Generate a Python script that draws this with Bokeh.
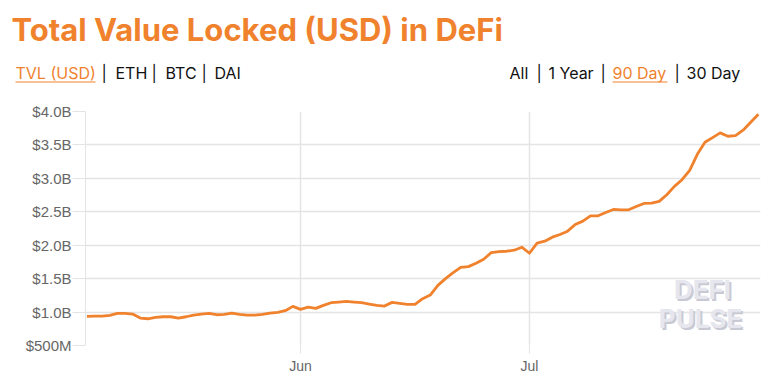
import pandas as pd
from bokeh.plotting import figure
from bokeh.models import FixedTicker, Label, Range1d, BoxAnnotation
from bokeh.embed import file_html
from bokeh.resources import INLINE

# ---- data ----
start_date = "2020-05-04"
tvl_billions = [
    0.936, 0.94, 0.94, 0.95, 0.98, 0.98, 0.97, 0.91, 0.90, 0.92,
    0.93, 0.93, 0.91, 0.93, 0.955, 0.97, 0.98, 0.96, 0.965, 0.985,
    0.965, 0.955, 0.955, 0.965, 0.985, 0.995, 1.02, 1.085, 1.04, 1.075,
    1.055, 1.10, 1.14, 1.15, 1.16, 1.15, 1.14, 1.12, 1.10, 1.09,
    1.145, 1.13, 1.115, 1.115, 1.20, 1.255, 1.40, 1.50, 1.59, 1.67,
    1.68, 1.73, 1.79, 1.89, 1.905, 1.91, 1.925, 1.97, 1.88, 2.03,
    2.06, 2.12, 2.16, 2.21, 2.31, 2.36, 2.44, 2.44, 2.49, 2.535,
    2.53, 2.53, 2.58, 2.625, 2.63, 2.655, 2.755, 2.88, 2.98, 3.12,
    3.36, 3.54, 3.61, 3.68, 3.63, 3.64, 3.72, 3.84, 3.96,
]
y_tick_values = [0.5e9, 1.0e9, 1.5e9, 2.0e9, 2.5e9, 3.0e9, 3.5e9, 4.0e9]
y_tick_labels = ["$500M", "$1.0B", "$1.5B", "$2.0B", "$2.5B", "$3.0B", "$3.5B", "$4.0B"]
x_tick_dates = ["2020-06-01", "2020-07-01"]
x_tick_labels = ["Jun", "Jul"]

title_text = "Total Value Locked (USD) in DeFi"
left_menu = ["TVL (USD)", "ETH", "BTC", "DAI"]
right_menu = ["All", "1 Year", "90 Day", "30 Day"]
left_active = "TVL (USD)"
right_active = "90 Day"

ORANGE = "#f0822d"
GRID = "#e4e4e4"

dates = pd.date_range(start_date, periods=len(tvl_billions), freq="D")
values = [v * 1e9 for v in tvl_billions]

jun1 = pd.Timestamp(x_tick_dates[0])
jul1 = pd.Timestamp(x_tick_dates[1])
x_start = jun1 - pd.Timedelta(hours=28.18 * 24)
x_end = jul1 + pd.Timedelta(hours=30.28 * 24)

W, H = 770, 382
HH = 98                                # header height
FL, FT, FR, FB = 85, 111, 760, 345     # frame edges in page pixels

# ---------------- header figure ----------------
hdr = figure(width=W, height=HH, output_backend="svg", toolbar_location=None,
             x_range=Range1d(0, W), y_range=Range1d(HH, 0),
             x_axis_location=None, y_axis_location=None,
             min_border=0, min_border_left=0, min_border_right=0,
             min_border_top=0, min_border_bottom=0)
hdr.grid.visible = False
hdr.outline_line_color = None
hdr.background_fill_color = "white"
hdr.border_fill_color = "white"


def add_label(X, Y, text, size, color, bold=False, font="Inter", align="left"):
    hdr.add_layout(Label(x=X, y=Y, text=text,
                         text_font=font, text_font_size=size, text_color=color,
                         text_font_style="bold" if bold else "normal",
                         text_align=align, text_baseline="middle"))


def underline(X0, X1, Y):
    hdr.add_layout(BoxAnnotation(left=X0, right=X1, top=Y, bottom=Y + 1,
                                 fill_color=ORANGE, fill_alpha=1, line_color=None))


add_label(11, 29, title_text, "31px", ORANGE, bold=True)

left_x = [15, 115, 165, 214]
left_sep_x = [101, 151, 201]
for x, t in zip(left_x, left_menu):
    add_label(x, 72, t, "16px", ORANGE if t == left_active else "#111111")
for x in left_sep_x:
    add_label(x, 72, "|", "16px", "#111111")

right_x = [509, 548, 612, 686]
right_sep_x = [536, 600, 674]
for x, t in zip(right_x, right_menu):
    add_label(x, 72, t, "16px", ORANGE if t == right_active else "#111111")
for x in right_sep_x:
    add_label(x, 72, "|", "16px", "#111111")

underline(15, 95, 81)
underline(612, 667, 81)

# ---------------- main chart ----------------
PH = H - HH
p = figure(width=W, height=PH, x_axis_type="datetime",
           output_backend="svg", toolbar_location=None,
           x_range=Range1d(x_start, x_end), y_range=Range1d(0.5e9, 4.0e9),
           min_border_left=FL, min_border_right=W - FR,
           min_border_top=FT - HH, min_border_bottom=H - FB)
p.outline_line_color = None
p.background_fill_color = "white"
p.border_fill_color = "white"

p.line(dates, values, line_color=ORANGE, line_width=2.8, line_join="round")

# y axis
yt = FixedTicker(ticks=y_tick_values)
p.yaxis.ticker = yt
p.yaxis.major_label_overrides = {v: s for v, s in zip(y_tick_values, y_tick_labels)}
p.yaxis.minor_tick_line_color = None
p.yaxis.major_tick_in = 0
p.yaxis.major_tick_out = 13
p.yaxis.major_tick_line_color = GRID
p.yaxis.axis_line_color = GRID
p.yaxis.major_label_text_font = "Liberation Sans"
p.yaxis.major_label_text_font_size = "15px"
p.yaxis.major_label_text_color = "#666666"
p.yaxis.major_label_standoff = 1
p.ygrid.ticker = yt
p.ygrid.grid_line_color = GRID
p.ygrid.grid_line_width = 1.5

# x axis
xticks = [pd.Timestamp(d).value // 10**6 for d in x_tick_dates]
xt = FixedTicker(ticks=xticks)
p.xaxis.ticker = xt
p.xaxis.major_label_overrides = {t: s for t, s in zip(xticks, x_tick_labels)}
p.xaxis.minor_tick_line_color = None
p.xaxis.major_tick_in = 0
p.xaxis.major_tick_out = 8
p.xaxis.major_tick_line_color = GRID
p.xaxis.axis_line_color = None
p.xaxis.major_label_text_font = "Liberation Sans"
p.xaxis.major_label_text_font_size = "14px"
p.xaxis.major_label_text_color = "#666666"
p.xaxis.major_label_standoff = 4
p.xgrid.ticker = xt
p.xgrid.grid_line_color = GRID
p.xgrid.grid_line_width = 1.5

# watermark (page pixels -> frame screen units)
for dx, col in ((2, "#c9c9d3"), (0, "#e6e6ee")):
    for X, Y, t in ((702, 289, "DEFI"), (700, 318, "PULSE")):
        p.add_layout(Label(x=X + dx - FL, y=FB - Y - dx, x_units="screen", y_units="screen",
                           text=t, text_font="Inter", text_font_size="26px",
                           text_font_style="bold", text_color=col,
                           text_align="center", text_baseline="middle"))

# two separate roots, stacked, so the header frame is not aligned with the chart frame
open("out.html", "w").write(file_html([hdr, p], INLINE))
